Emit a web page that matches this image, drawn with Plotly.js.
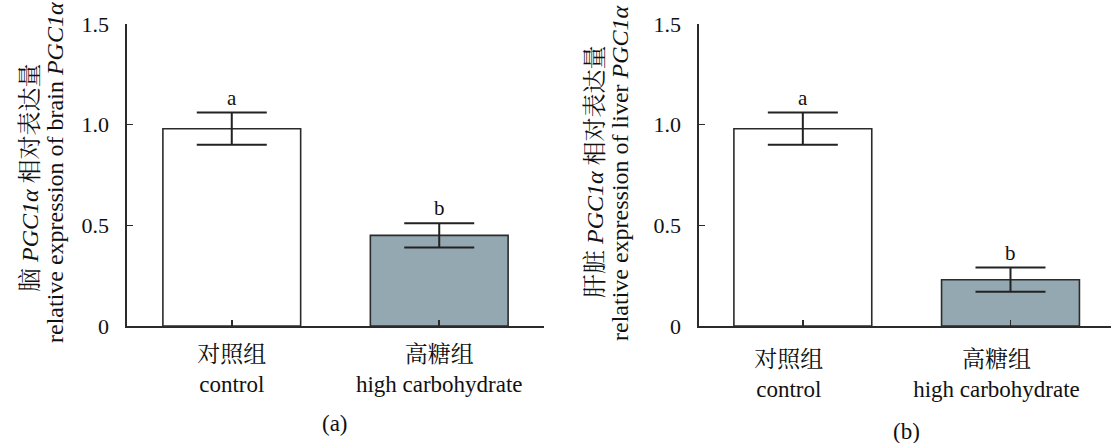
<!DOCTYPE html>
<html>
<head>
<meta charset="utf-8">
<script src="https://cdn.plot.ly/plotly-3.0.1.min.js"></script>
<style>html,body{margin:0;padding:0;background:#fff;}#chart{width:1111px;height:443px;}</style>
</head>
<body>
<div id="chart"></div>
<script>
// ---- data ----
const categories = ['对照组<br>control', '高糖组<br>high carbohydrate'];
const brainMean = [0.98, 0.45];
const brainErr = [0.08, 0.06];
const liverMean = [0.98, 0.23];
const liverErr = [0.08, 0.06];
const letters = ['a', 'b'];
const yTickVals = [0, 0.5, 1.0, 1.5];
const yTickText = ['0', '0.5', '1.0', '1.5'];
const barColors = ['#ffffff', '#94a8b1'];
const panelLabels = ['(a)', '(b)'];
const yTitles = [
  ['脑 <i>PGC1α</i> 相对表达量', 'relative expression of brain <i>PGC1α</i>'],
  ['肝脏 <i>PGC1α</i> 相对表达量', 'relative expression of liver <i>PGC1α</i>']
];

const W = 1111, H = 443;
const FONT = '"Liberation Serif", "Times New Roman", "Noto Serif CJK SC", "Noto Sans CJK SC", serif';
const AX = '#2b2b2b';

function barTrace(means, errs, xa, ya) {
  return {
    type: 'bar', x: categories, y: means, xaxis: xa, yaxis: ya,
    width: 0.664,
    marker: {color: barColors, line: {color: AX, width: 1.6}},
    error_y: {type: 'data', array: errs, visible: true, color: '#222222', thickness: 2, width: 35},
    hoverinfo: 'skip', showlegend: false
  };
}

const data = [
  barTrace(brainMean, brainErr, 'x', 'y'),
  barTrace(liverMean, liverErr, 'x2', 'y2')
];

function xAxis(domain, range, shift, standoff) {
  return {
    domain: domain, range: range, type: 'category',
    showline: true, linecolor: AX, linewidth: 1.6,
    ticks: 'inside', ticklen: 6, tickcolor: AX, tickwidth: 1.5,
    showgrid: false, zeroline: false, fixedrange: true,
    tickfont: {family: FONT, size: 23, color: '#111'},
    ticklabelstandoff: standoff, ticklabelshift: shift
  };
}
function yAxis(domain, anchor) {
  return {
    domain: domain, range: [0, 1.5], anchor: anchor,
    showline: true, linecolor: AX, linewidth: 1.6,
    ticks: 'inside', ticklen: 6, tickcolor: AX, tickwidth: 1.5,
    tickvals: yTickVals, ticktext: yTickText,
    showgrid: false, zeroline: false, fixedrange: true,
    tickfont: {family: FONT, size: 22, color: '#111'},
    ticklabelstandoff: 12
  };
}

const yDom = [1 - 326 / H, 1 - 24 / H];

const annotations = [];
// significance letters
[[brainMean, brainErr, 'x', 'y'], [liverMean, liverErr, 'x2', 'y2']].forEach(([m, e, xa, ya]) => {
  m.forEach((v, i) => {
    annotations.push({
      xref: xa, yref: ya, x: categories[i], y: v + e[i],
      text: letters[i], showarrow: false, yanchor: 'bottom', yshift: 1,
      font: {family: FONT, size: 21, color: '#111'}
    });
  });
});
// y titles (two lines each)
const yTitlePos = [
  [[30, 178], [55, 173]],
  [[595, 172], [620, 173]]
];
yTitles.forEach((lines, p) => {
  lines.forEach((t, k) => {
    annotations.push({
      xref: 'paper', yref: 'paper',
      x: yTitlePos[p][k][0] / W, y: 1 - yTitlePos[p][k][1] / H,
      xanchor: 'center', yanchor: 'middle', textangle: -90,
      text: t, showarrow: false,
      font: {family: FONT, size: 24, color: '#111'}
    });
  });
});
// panel labels
const panelPos = [[335, 423], [906, 431]];
panelLabels.forEach((t, p) => {
  annotations.push({
    xref: 'paper', yref: 'paper',
    x: panelPos[p][0] / W, y: 1 - panelPos[p][1] / H,
    xanchor: 'center', yanchor: 'middle', text: t, showarrow: false,
    font: {family: FONT, size: 23, color: '#111'}
  });
});

const layout = {
  width: W, height: H,
  margin: {l: 0, r: 0, t: 0, b: 0},
  paper_bgcolor: '#fff', plot_bgcolor: 'rgba(0,0,0,0)',
  font: {family: FONT, color: '#111'},
  showlegend: false,
  xaxis: xAxis([127 / W, 544 / W], [-0.505, 1.505], 0, 7),
  yaxis: yAxis(yDom, 'x'),
  xaxis2: Object.assign(xAxis([699 / W, 1], [-0.5, 1.484], -14, 12), {anchor: 'y2'}),
  yaxis2: yAxis(yDom, 'x2'),
  annotations: annotations
};
layout.xaxis.anchor = 'y';

Plotly.newPlot('chart', data, layout, {staticPlot: true, displayModeBar: false});
</script>
</body>
</html>
